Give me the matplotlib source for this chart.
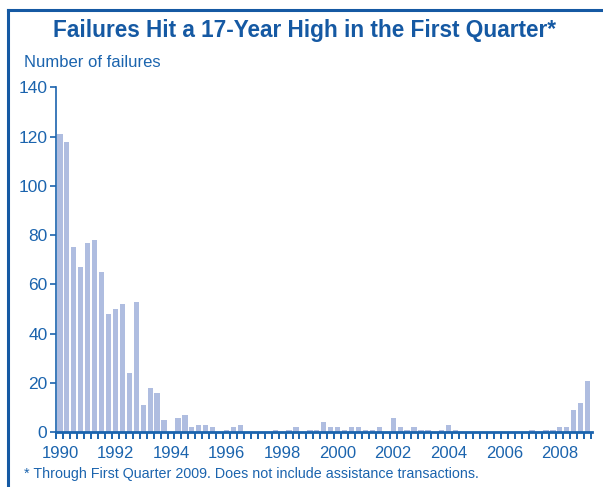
import matplotlib
matplotlib.use("Agg")
import matplotlib.pyplot as plt
import numpy as np

# Quarterly bank failures, 1990 Q1 through 2009 Q1
START_YEAR = 1990
failures = [
    121, 118, 75, 67,   # 1990
    77, 78, 65, 48,     # 1991
    50, 52, 24, 53,     # 1992
    11, 18, 16, 5,      # 1993
    0, 6, 7, 2,         # 1994
    3, 3, 2, 0,         # 1995
    1, 2, 3, 0,         # 1996
    0, 0, 0, 1,         # 1997
    0, 1, 2, 0,         # 1998
    1, 1, 4, 2,         # 1999
    2, 1, 2, 2,         # 2000
    1, 1, 2, 0,         # 2001
    6, 2, 1, 2,         # 2002
    1, 1, 0, 1,         # 2003
    3, 1, 0, 0,         # 2004
    0, 0, 0, 0,         # 2005
    0, 0, 0, 0,         # 2006
    1, 0, 1, 1,         # 2007
    2, 2, 9, 12,        # 2008
    21,                 # 2009 Q1
]
year_labels = [str(y) for y in range(1990, 2009, 2)]
y_ticks = [0, 20, 40, 60, 80, 100, 120, 140]

TITLE = "Failures Hit a 17-Year High in the First Quarter*"
Y_LABEL = "Number of failures"
FOOTNOTE = "* Through First Quarter 2009. Does not include assistance transactions."

BLUE = "#1b64ae"
DARK_BLUE = "#1559a3"
BAR_COLOR = "#afbde0"

plt.rcParams["font.family"] = ["Liberation Sans", "DejaVu Sans"]

fig = plt.figure(figsize=(6.03, 4.87), dpi=100)
ax = fig.add_axes([0.0924, 0.1123, 0.8896, 0.7084])

x = np.arange(len(failures))
ax.bar(x, failures, width=0.76, color=BAR_COLOR, zorder=2)

ax.set_xlim(-0.6, len(failures) - 0.35)
ax.set_ylim(0, 140)

# quarter boundary ticks, year labels centred on each Q1 bar
ax.set_xticks(np.arange(len(failures) + 1) - 0.5)
ax.set_xticklabels([])
ax.tick_params(axis="x", which="major", direction="out", length=5, width=1.4, color=BLUE)
label_pos = [(int(lbl) - START_YEAR) * 4 for lbl in year_labels]
ax.set_xticks(label_pos, year_labels, minor=True)
ax.tick_params(axis="x", which="minor", length=0, pad=10, labelsize=12, labelcolor=BLUE)

ax.set_yticks(y_ticks)
ax.tick_params(axis="y", direction="out", length=4, width=1.2, color=BLUE,
               labelsize=12.5, labelcolor=BLUE, pad=2)

for side in ["top", "right"]:
    ax.spines[side].set_visible(False)
ax.spines["left"].set_color(BLUE)
ax.spines["left"].set_linewidth(1.2)
ax.spines["bottom"].set_color(BLUE)
ax.spines["bottom"].set_linewidth(2.0)

fig.text(0.505, 0.938, TITLE, ha="center", va="center", fontsize=16.3,
         fontweight="bold", color=DARK_BLUE)
fig.text(0.040, 0.872, Y_LABEL, ha="left", va="center", fontsize=12, color=BLUE)
fig.text(0.040, 0.027, FOOTNOTE, ha="left", va="center", fontsize=10.3, color=BLUE)

# frame: top and left edges
fig.add_artist(plt.Line2D([0.0135, 1.0], [0.979, 0.979], transform=fig.transFigure,
                          color=DARK_BLUE, linewidth=2.2))
fig.add_artist(plt.Line2D([0.0135, 0.0135], [0.0, 0.979], transform=fig.transFigure,
                          color=DARK_BLUE, linewidth=2.2))

fig.savefig("out.png", dpi=100)
